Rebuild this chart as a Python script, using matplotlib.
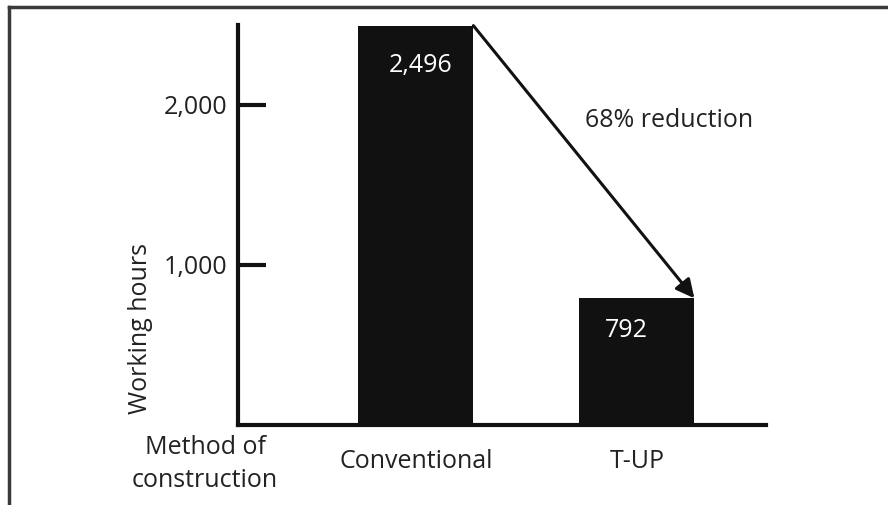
import matplotlib.pyplot as plt
from matplotlib.lines import Line2D

plt.rcParams['font.family'] = ['Open Sans', 'DejaVu Sans']

methods = ['Conventional', 'T-UP']
hours = [2496, 792]
hour_labels = ['2,496', '792']
yticks = [1000, 2000]
ytick_labels = ['1,000', '2,000']

fig = plt.figure(figsize=(8.88, 5.05), dpi=100)
ax = fig.add_axes([238/888, 1-425/505, (766-238)/888, 400/505])

x = [1, 2]
width = 0.52
ax.bar(x, hours, width=width, color='#111111')

ax.set_xlim(0.195, 2.584)
ax.set_ylim(0, 2500)

for s in ['top', 'right']:
    ax.spines[s].set_visible(False)
for s in ['left', 'bottom']:
    ax.spines[s].set_linewidth(3)
    ax.spines[s].set_color('#111111')

fs = 18
ax.set_yticks(yticks)
ax.set_yticklabels(ytick_labels, fontsize=fs, color='#222222')
ax.tick_params(axis='y', direction='in', length=20, width=3, color='#111111', pad=8)
ax.set_xticks(x)
ax.set_xticklabels(methods, fontsize=fs, color='#222222')
ax.tick_params(axis='x', length=0, pad=17)

# value labels inside bars
ax.text(x[0] + 0.02, hours[0] - 250, hour_labels[0], color='white', fontsize=fs,
        ha='center', va='center')
ax.text(x[1] - 0.05, hours[1] - 200, hour_labels[1], color='white', fontsize=fs,
        ha='center', va='center')

# reduction arrow
ax.annotate('', xy=(x[1] + width/2, hours[1]), xytext=(x[0] + width/2, hours[0]),
            arrowprops=dict(arrowstyle='-|>', lw=2.2, color='#111111',
                            mutation_scale=28, shrinkA=0, shrinkB=0))
ax.text(1.765, 1900, '68% reduction', fontsize=fs, color='#222222',
        ha='left', va='center')

fig.text(205/888, 1-464/505, 'Method of\nconstruction', fontsize=fs,
         color='#222222', ha='center', va='center', linespacing=1.45)
fig.text(140/888, 1-328/505, 'Working hours', fontsize=fs, color='#222222',
         rotation=90, ha='center', va='center')

# frame (top and left only)
fig.add_artist(Line2D([9/888, 1], [1-7/505, 1-7/505], color='#3a3a3a', lw=2.5))
fig.add_artist(Line2D([9/888, 9/888], [0, 1-7/505], color='#3a3a3a', lw=2.5))

fig.savefig('out.png', dpi=100)
